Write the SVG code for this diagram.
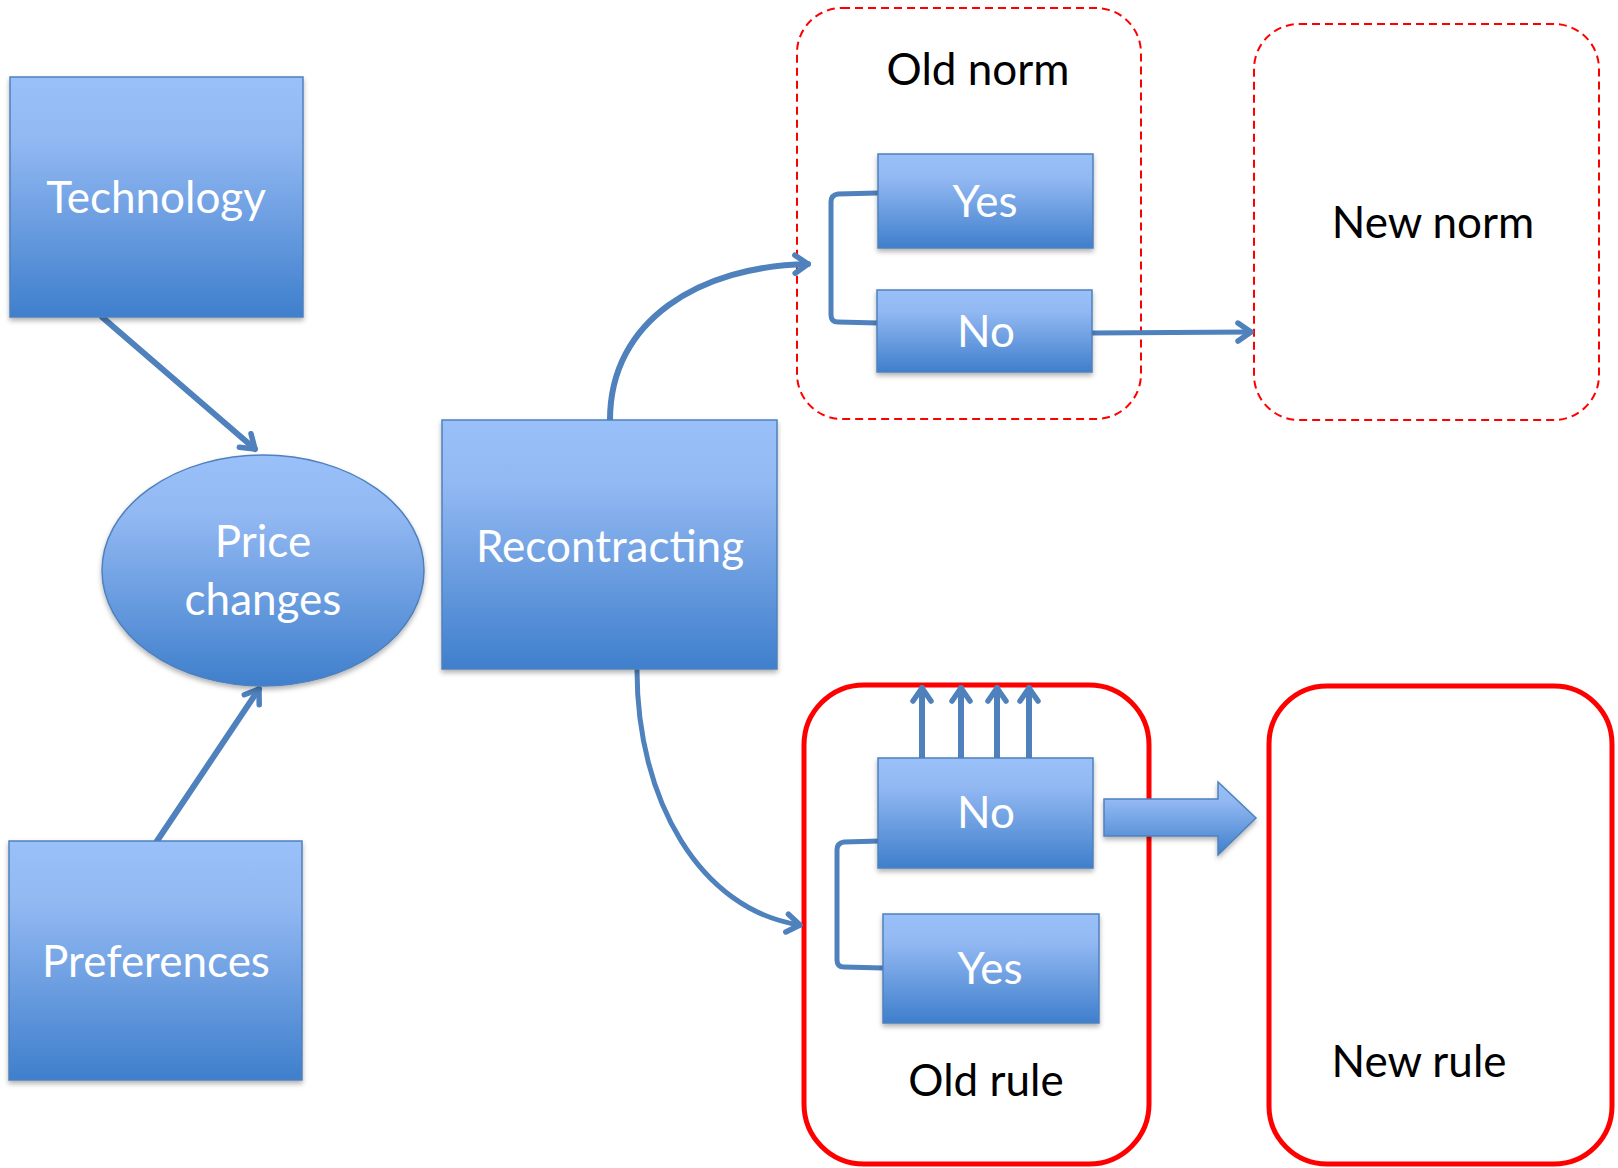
<svg xmlns="http://www.w3.org/2000/svg" width="1618" height="1168" viewBox="0 0 1618 1168">
<style>
.box{fill:url(#bg);stroke:#4f81bd;stroke-width:1.5;filter:url(#sh)}
.wt{fill:#ffffff;font-family:Lato,"Open Sans",sans-serif;font-size:44px;text-anchor:middle}
.bt{fill:#000000;font-family:Lato,"Open Sans",sans-serif;font-size:44px;text-anchor:middle}
.dash{fill:none;stroke:#ff0000;stroke-width:2;stroke-dasharray:8 5}
.solid{fill:none;stroke:#ff0000;stroke-width:5}
.con{fill:none;stroke:#4f81bd;stroke-width:6;stroke-linecap:round;stroke-linejoin:round}
.arr{marker-end:url(#ah)}
</style>
<defs>
<linearGradient id="bg" x1="0" y1="0" x2="0" y2="1">
<stop offset="0" stop-color="#9ac0fa"/>
<stop offset="0.25" stop-color="#93b9f3"/>
<stop offset="1" stop-color="#3f7fcc"/>
</linearGradient>
<filter id="sh" x="-10%" y="-10%" width="120%" height="125%">
<feDropShadow dx="0" dy="3" stdDeviation="2.5" flood-color="#000" flood-opacity="0.3"/>
</filter>
<marker id="ah" viewBox="0 0 28 28" refX="21" refY="14" markerWidth="28" markerHeight="28" markerUnits="userSpaceOnUse" orient="auto">
<path d="M8,5 L21,14 L8,23" fill="none" stroke="#4f81bd" stroke-width="5.5" stroke-linecap="round" stroke-linejoin="round"/>
</marker>
</defs>
<rect width="1618" height="1168" fill="#ffffff"/>

<g id="old-norm-group">
<rect class="dash" x="797" y="8" width="344" height="411" rx="45"/>
<text class="bt" x="978" y="85">Old norm</text>
</g>
<g id="new-norm">
<rect class="dash" x="1254" y="24" width="345" height="396" rx="45"/>
<text class="bt" x="1433" y="238">New norm</text>
</g>
<g id="old-rule-group">
<rect class="solid" x="804" y="685" width="345" height="479" rx="60"/>
<text class="bt" x="986" y="1096">Old rule</text>
</g>
<g id="new-rule">
<rect class="solid" x="1269" y="686" width="343" height="478" rx="58"/>
<text class="bt" x="1419" y="1077">New rule</text>
</g>

<g id="connectors">
<path class="con arr" d="M102,317 L255,449"/>
<path class="con arr" d="M157,841 L259,689"/>
<path class="con arr" d="M610,420 C610,320 700,266 808,264"/>
<path class="con arr" style="stroke-width:5" d="M637,670 C637,800 700,910 800,925"/>
<path class="con" style="stroke-width:5" d="M878,193 L838,194 Q831,195 831,202 L831,315 Q831,322 838,322 L878,323"/>
<path class="con" style="stroke-width:5" d="M880,841 L844,842 Q837,843 837,850 L837,960 Q837,967 844,967 L883,968"/>
<path class="con arr" style="stroke-width:5" d="M1092,333 L1251,332"/>
<path class="con arr" d="M922,758 L922,688"/>
<path class="con arr" d="M961,758 L961,688"/>
<path class="con arr" d="M997,758 L997,688"/>
<path class="con arr" d="M1029,758 L1029,688"/>
<polygon id="block-arrow" points="1104,799 1218,799 1218,782 1256,818 1218,855 1218,836 1104,836" fill="url(#bg)" stroke="#4f81bd" stroke-width="1.5" filter="url(#sh)"/>
</g>

<g id="technology">
<rect class="box" x="10" y="77" width="293" height="240"/>
<text class="wt" x="156" y="213">Technology</text>
</g>
<g id="price-changes">
<ellipse cx="263" cy="570.5" rx="161" ry="115.5" fill="url(#bg)" stroke="#4f81bd" stroke-width="1.5" filter="url(#sh)"/>
<text class="wt" x="263" y="557">Price</text>
<text class="wt" x="263" y="615">changes</text>
</g>
<g id="preferences">
<rect class="box" x="9" y="841" width="293" height="239"/>
<text class="wt" x="156" y="977">Preferences</text>
</g>
<g id="recontracting">
<rect class="box" x="442" y="420" width="335" height="249"/>
<text class="wt" x="610" y="562">Recontracting</text>
</g>
<g id="yes-top">
<rect class="box" x="878" y="154" width="215" height="94"/>
<text class="wt" x="985" y="217">Yes</text>
</g>
<g id="no-top">
<rect class="box" x="877" y="290" width="215" height="82"/>
<text class="wt" x="986" y="347">No</text>
</g>
<g id="no-bottom">
<rect class="box" x="878" y="758" width="215" height="110"/>
<text class="wt" x="986" y="828">No</text>
</g>
<g id="yes-bottom">
<rect class="box" x="883" y="914" width="216" height="109"/>
<text class="wt" x="990" y="984">Yes</text>
</g>
</svg>
